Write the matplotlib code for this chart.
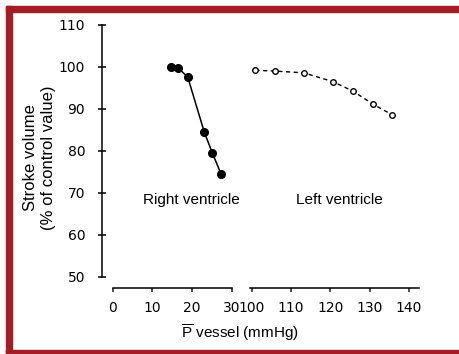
import matplotlib
matplotlib.use('Agg')
from matplotlib import pyplot as plt
from matplotlib import patches

# Данные. Начало
rv_pressure = [14.7, 16.4, 18.9, 23.1, 25.1, 27.3]
rv_volume = [100.0, 99.8, 97.6, 84.4, 79.5, 74.5]

lv_pressure = [100.9, 105.9, 113.2, 120.6, 125.8, 130.9, 135.7]
lv_volume = [99.2, 99.0, 98.6, 96.5, 94.2, 91.1, 88.6]

y_ticks = [50, 60, 70, 80, 90, 100, 110]
rv_ticks = [0, 10, 20, 30]
lv_ticks = [100, 110, 120, 130, 140]
# Данные. Конец

plt.rcParams['font.family'] = ['Liberation Sans', 'DejaVu Sans']
plt.rcParams['mathtext.fontset'] = 'custom'
plt.rcParams['mathtext.rm'] = 'Liberation Sans'
plt.rcParams['font.size'] = 11

W, H = 460, 354
fig = plt.figure(figsize=(W / 100, H / 100), dpi=100)
fig.patch.set_facecolor('white')

border = '#a51d24'
# рамка слева, сверху и снизу
for x0, y0, w, h in [(6, 6, 6, 348), (6, 6, 454, 6), (6, 350, 454, 4)]:
    fig.patches.append(patches.Rectangle(
        (x0 / W, 1 - (y0 + h) / H), w / W, h / H,
        transform=fig.transFigure, color=border, zorder=0))


def px_box(left, right, top, bottom):
    return [left / W, 1 - bottom / H, (right - left) / W, (bottom - top) / H]


ax1 = fig.add_axes(px_box(102.5, 231.7, 25, 276.5))
ax2 = fig.add_axes(px_box(250, 419, 25, 276.5))

tick_font = {'family': 'DejaVu Sans', 'size': 10}

for ax in (ax1, ax2):
    ax.set_facecolor('none')
    ax.set_ylim(50, 110)
    ax.spines['top'].set_visible(False)
    ax.spines['right'].set_visible(False)
    ax.spines['bottom'].set_position(('outward', 8.5))
    ax.spines['bottom'].set_linewidth(1.1)
    ax.spines['left'].set_linewidth(1.1)
    ax.tick_params(axis='x', direction='out', length=3, width=1.1,
                   pad=6.5, color='#222222')

ax1.set_xlim(-2.6, 30.0)
ax1.spines['bottom'].set_bounds(0, 30)
ax1.set_xticks(rv_ticks)
ax1.set_xticklabels([str(t) for t in rv_ticks], fontdict=tick_font)
ax1.set_yticks(y_ticks)
ax1.set_yticklabels([str(t) for t in y_ticks], fontdict=tick_font)
ax1.tick_params(axis='y', direction='inout', length=6, width=1.1, pad=9.5)

ax2.set_xlim(99.5, 142.6)
ax2.spines['left'].set_visible(False)
ax2.set_xticks(lv_ticks)
ax2.set_xticklabels([str(t) for t in lv_ticks], fontdict=tick_font)
ax2.set_yticks([])

ax1.plot(rv_pressure, rv_volume, '-', color='black', linewidth=1.1,
         marker='o', markersize=5.5, markerfacecolor='black', clip_on=False)
ax2.plot(lv_pressure, lv_volume, '--', color='black', linewidth=1.0,
         dashes=(3, 2.5), marker='o', markersize=4, markerfacecolor='white',
         markeredgewidth=1.0, clip_on=False)

ax1.text(19.7, 68.3, 'Right ventricle', ha='center', va='center', fontsize=11)
ax2.text(122.2, 68.3, 'Left ventricle', ha='center', va='center', fontsize=11)

fig.text(40 / W, 1 - 158 / H, 'Stroke volume\n(% of control value)',
         rotation=90, ha='center', va='center', multialignment='center',
         fontsize=12, linespacing=1.25)
fig.text(240 / W, 1 - 333 / H, r'$\overline{\mathrm{P}}$ vessel (mmHg)',
         ha='center', va='center', fontsize=11)

fig.savefig('out.png', dpi=100)
